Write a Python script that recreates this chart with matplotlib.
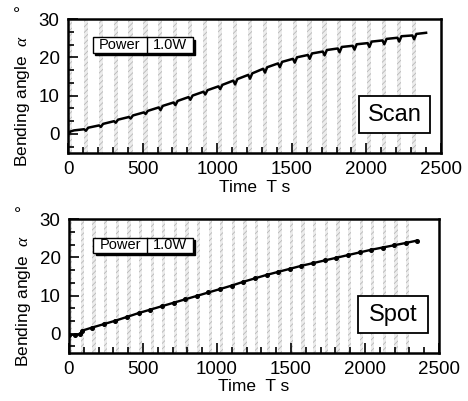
import matplotlib
matplotlib.use('Agg')
import matplotlib.pyplot as plt
from matplotlib.patches import Rectangle
from matplotlib.ticker import MultipleLocator

plt.rcParams['font.family'] = ['Liberation Sans', 'DejaVu Sans']
plt.rcParams['mathtext.fontset'] = 'custom'
plt.rcParams['mathtext.it'] = 'Liberation Serif:italic'
plt.rcParams['hatch.linewidth'] = 0.6

# --- data ---
# scan: bending angle (deg) vs time (s), with a small dip at each laser pass
scan_t = [0, 15, 40,
          108, 120, 135, 208, 220, 235, 308, 320, 335, 408, 420, 435,
          508, 520, 535, 608, 620, 635, 708, 720, 735, 808, 820, 835,
          908, 920, 935, 1008, 1020, 1035, 1108, 1120, 1135, 1208, 1220, 1235,
          1308, 1320, 1335, 1408, 1420, 1435, 1508, 1520, 1535, 1608, 1620, 1635,
          1708, 1720, 1735, 1808, 1820, 1835, 1908, 1920, 1935, 2008, 2020, 2035,
          2108, 2120, 2135, 2208, 2220, 2235, 2308, 2320, 2335, 2400]
scan_a = [-0.3, 0.6, 0.9,
          1.2, 0.8, 1.6, 2.2, 1.8, 2.6, 3.3, 2.9, 3.7, 4.4, 4.0, 4.8,
          5.6, 5.2, 6.0, 6.9, 6.2, 7.3, 8.2, 7.5, 8.6, 9.6, 8.9, 10.0,
          11.0, 10.3, 11.4, 12.4, 11.7, 12.8, 13.9, 12.9, 14.3, 15.4, 14.4, 15.8,
          17.0, 16.0, 17.4, 18.4, 17.4, 18.8, 19.6, 18.6, 20.0, 20.6, 19.6, 21.0,
          21.5, 20.5, 21.9, 22.3, 21.3, 22.7, 23.0, 22.0, 23.4, 23.7, 22.7, 24.1,
          24.4, 23.4, 24.8, 25.1, 24.1, 25.5, 25.7, 24.7, 26.1, 26.4]
scan_stripes = [0, 105, 205, 305, 405, 505, 605, 705, 805, 905, 1005, 1105,
                1205, 1305, 1405, 1505, 1605, 1705, 1805, 1905, 2005, 2105,
                2205, 2305]

# spot: bending angle vs time, small step at each laser pass
spot_t = [0, 40, 75, 90, 157, 236, 314, 393, 471, 550, 628, 707, 785, 864,
          942, 1021, 1099, 1178, 1256, 1335, 1413, 1492, 1570, 1649, 1727,
          1806, 1884, 1963, 2041, 2120, 2198, 2277, 2350]
spot_a = [-0.3, -0.3, -0.2, 0.8, 1.6, 2.5, 3.4, 4.4, 5.4, 6.3, 7.2, 8.1,
          9.0, 9.9, 10.8, 11.7, 12.6, 13.6, 14.5, 15.4, 16.2, 17.0, 17.8,
          18.5, 19.2, 19.9, 20.6, 21.3, 22.0, 22.6, 23.2, 23.8, 24.4]
spot_stripes = [0, 80, 158, 237, 315, 394, 472, 551, 629, 708, 786, 865,
                943, 1022, 1100, 1179, 1257, 1336, 1414, 1493, 1571, 1650,
                1728, 1807, 1885, 1964, 2042, 2121, 2199, 2278]

x_ticks = [0, 500, 1000, 1500, 2000, 2500]
y_ticks = [0, 10, 20, 30]


def draw_panel(ax, t, a, stripes, swidth, label, markers):
  for s in stripes:
    ax.axvspan(s, s + swidth, facecolor='#ececec', edgecolor='#b8b8b8',
               hatch='//////', linewidth=0, zorder=0)
  if markers:
    ax.plot(t, a, color='black', lw=1.7, marker='o', ms=2.6, zorder=3)
  else:
    ax.plot(t, a, color='black', lw=1.8, zorder=3)

  ax.set_xlim(0, 2500)
  ax.set_ylim(-5, 30)
  ax.set_xticks(x_ticks)
  ax.set_yticks(y_ticks)
  ax.xaxis.set_minor_locator(MultipleLocator(100))
  ax.yaxis.set_minor_locator(MultipleLocator(10.0 / 3))
  ax.tick_params(which='both', direction='in', top=False, right=False,
                 labelsize=13.5, width=1.2, pad=6)
  ax.tick_params(which='major', length=7)
  ax.tick_params(which='minor', length=4)
  for sp in ax.spines.values():
    sp.set_linewidth(1.8)

  ax.set_xlabel('Time  T s', fontsize=12.5, labelpad=1)
  ax.set_ylabel('Bending angle  $\\alpha$     \u00b0', fontsize=12.5,
                labelpad=5)

  # "Power | 1.0W" box with drop shadow
  bx, by, bw, bh, dv = 0.066, 0.75, 0.269, 0.112, 0.212
  ax.add_patch(Rectangle((bx + 0.006, by - 0.016), bw, bh, transform=ax.transAxes,
                         facecolor='black', edgecolor='black', zorder=4))
  ax.add_patch(Rectangle((bx, by), bw, bh, transform=ax.transAxes,
                         facecolor='white', edgecolor='black', lw=1, zorder=5))
  ax.plot([dv, dv], [by, by + bh], transform=ax.transAxes, color='black',
          lw=1, zorder=6)
  ax.text((bx + dv) / 2, by + bh / 2, 'Power', transform=ax.transAxes,
          ha='center', va='center', fontsize=10.5, zorder=7)
  ax.text((dv + bx + bw) / 2, by + bh / 2, '1.0W', transform=ax.transAxes,
          ha='center', va='center', fontsize=10.5, zorder=7)

  # method label box
  ax.add_patch(Rectangle((0.781, 0.147), 0.19, 0.277, transform=ax.transAxes,
                         facecolor='white', edgecolor='black', lw=1.3, zorder=5))
  ax.text(0.876, 0.285, label, transform=ax.transAxes, ha='center',
          va='center', fontsize=17, zorder=7)


fig = plt.figure(figsize=(4.68, 4.01), dpi=100)
ax1 = fig.add_axes([0.1453, 0.6185, 0.797, 0.3341])
ax2 = fig.add_axes([0.1474, 0.1205, 0.7906, 0.3326])

draw_panel(ax1, scan_t, scan_a, scan_stripes, 28, 'Scan', False)
draw_panel(ax2, spot_t, spot_a, spot_stripes, 22, 'Spot', True)

fig.savefig('out.png', dpi=100)
